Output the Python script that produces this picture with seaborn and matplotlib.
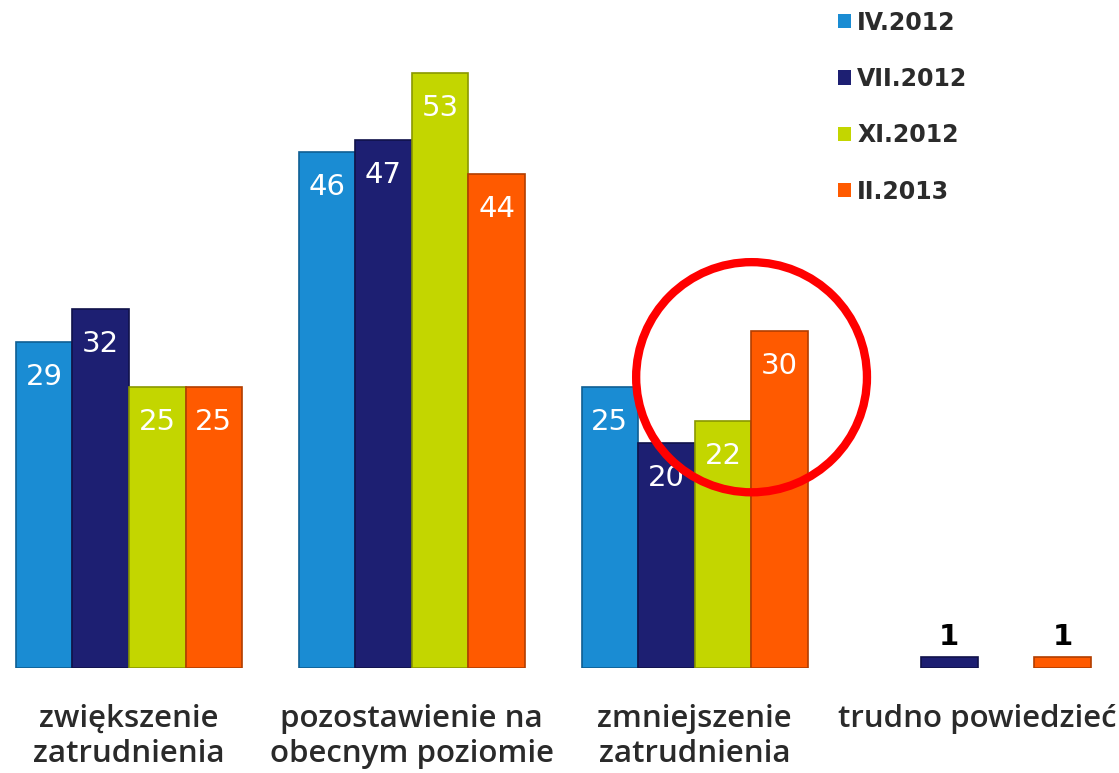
import numpy as np
import pandas as pd
import seaborn as sns
import matplotlib.pyplot as plt
from matplotlib.patches import Ellipse

# Data
categories = ['zwiększenie\nzatrudnienia', 'pozostawienie na\nobecnym poziomie',
              'zmniejszenie\nzatrudnienia', 'trudno powiedzieć']
periods = ['IV.2012', 'VII.2012', 'XI.2012', 'II.2013']
iv_2012 = [29, 46, 25, np.nan]
vii_2012 = [32, 47, 20, 1]
xi_2012 = [25, 53, 22, np.nan]
ii_2013 = [25, 44, 30, 1]
colors = ['#1a8cd3', '#1d1f72', '#c3d600', '#ff5a00']
edge_colors = ['#0f5f93', '#10124a', '#8a9800', '#b23e00']

# Long table for seaborn
rows = []
for period, vals in zip(periods, [iv_2012, vii_2012, xi_2012, ii_2013]):
    for cat, v in zip(categories, vals):
        if not np.isnan(v):
            rows.append({'kategoria': cat, 'okres': period, 'procent': v})
df = pd.DataFrame(rows)

sns.set_style('white')
plt.rcParams['font.family'] = ['DejaVu Sans']

fig = plt.figure(figsize=(11.19, 7.73), dpi=100)
ax = fig.add_axes([0, 105 / 773, 1, 668 / 773])

sns.barplot(data=df, x='kategoria', y='procent', hue='okres', order=categories,
            hue_order=periods, palette=colors, width=0.8, gap=0, saturation=1,
            errorbar=None, linewidth=0, ax=ax)

# darker rim to hint at the 3D look of the original
for container, ec in zip(ax.containers, edge_colors):
    for bar in container:
        bar.set_edgecolor(ec)
        bar.set_linewidth(1.2)

ax.set_xlim(-0.456, 3.5)
ax.set_ylim(0, 59.5)
ax.set_xlabel('')
ax.set_ylabel('')
ax.set_yticks([])
sns.despine(ax=ax, left=True, bottom=True)
ax.tick_params(axis='x', length=0, pad=26)
for lbl in ax.get_xticklabels():
    lbl.set_fontfamily(['Open Sans', 'DejaVu Sans'])
    lbl.set_fontweight('semibold')
    lbl.set_fontsize(22.5)
    lbl.set_color('#2a2a2a')
    lbl.set_linespacing(1.2)

# Value labels
for container in ax.containers:
    for bar in container:
        h = bar.get_height()
        if np.isnan(h):
            continue
        x = bar.get_x() + bar.get_width() / 2
        if h >= 5:
            ax.annotate(f'{h:.0f}', (x, h), xytext=(0, -35), textcoords='offset pixels',
                        ha='center', va='center', color='white', fontsize=21)
        else:
            ax.annotate(f'{h:.0f}', (x, h), xytext=(0, 6), textcoords='offset pixels',
                        ha='center', va='bottom', color='black', fontsize=21,
                        fontweight='bold')

# Legend
handles, labels = ax.get_legend_handles_labels()
leg = ax.legend(handles, labels, loc='upper left', bbox_to_anchor=(817 / 1119, 1.016),
                frameon=False, prop={'weight': 'bold', 'size': 17},
                handlelength=0.55, handleheight=0.55, handletextpad=0.25,
                labelspacing=1.37)
for t in leg.get_texts():
    t.set_color('#2b2b2b')

# Red highlight circle
ax.add_patch(Ellipse((2.201, 25.9), 0.816, 20.5, fill=False, edgecolor='#ff0000',
                     linewidth=6, zorder=5, clip_on=False))

fig.savefig('out.png', dpi=100)
